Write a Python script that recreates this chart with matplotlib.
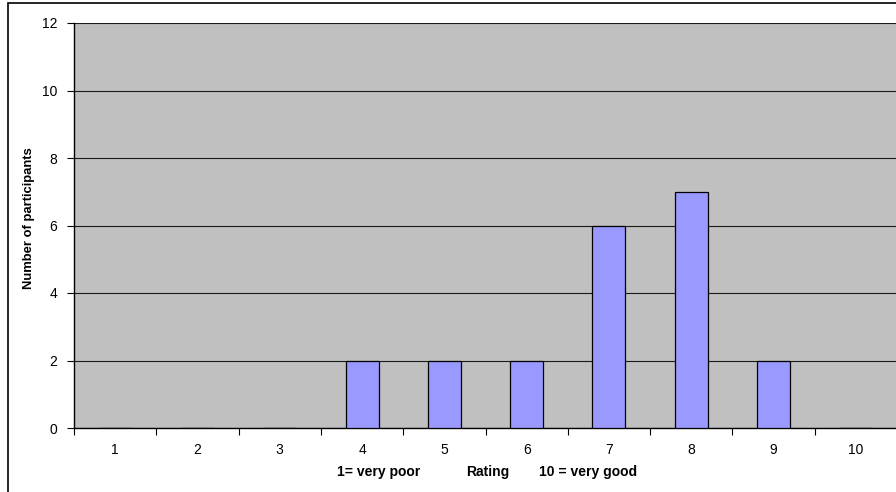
import matplotlib.pyplot as plt
from matplotlib.patches import Rectangle

plt.rcParams['font.family'] = ['Liberation Sans', 'DejaVu Sans']

ratings = [1, 2, 3, 4, 5, 6, 7, 8, 9, 10]
participants = [0, 0, 0, 2, 2, 2, 6, 7, 2, 0]
y_ticks = [0, 2, 4, 6, 8, 10, 12]

W, H = 896, 492
fig = plt.figure(figsize=(W / 100, H / 100), dpi=100)

# chart frame (clipped at right and bottom like the reference)
fig.patches.append(Rectangle((8 / W, -0.1), 1.2, 1 - 3 / H + 0.1,
                             transform=fig.transFigure, fill=False,
                             edgecolor='black', linewidth=1.2))

left, right, top, bottom = 74, 897, 23, 428
ax = fig.add_axes([left / W, 1 - bottom / H, (right - left) / W, (bottom - top) / H])
ax.set_facecolor('#C0C0C0')

ax.bar(ratings, participants, width=0.40, color='#9999FF',
       edgecolor='black', linewidth=0.9, zorder=3)

ax.set_xlim(0.5, 10.5)
ax.set_ylim(0, 12)
ax.set_yticks(y_ticks)
ax.yaxis.grid(True, color='#1a1a1a', linewidth=0.8, zorder=1)
ax.set_axisbelow(True)

ax.set_xticks(ratings)
ax.set_xticklabels([str(r) for r in ratings], fontsize=10)
ax.set_xticks([r + 0.5 for r in [0] + ratings[:-1]], minor=True)
ax.tick_params(axis='x', which='major', length=0, pad=11)
ax.tick_params(axis='x', which='minor', length=5, width=0.8, direction='out')
ax.tick_params(axis='y', length=5, width=0.8, labelsize=10, pad=7)

for s in ['top', 'right']:
    ax.spines[s].set_visible(False)
for s in ['left', 'bottom']:
    ax.spines[s].set_linewidth(1.0)

# axis titles placed in pixel positions
fig.text(29 / W, 1 - 218 / H, 'Number of participants', rotation=90,
         fontsize=9.4, fontweight='bold', ha='center', va='center')
lab_y = 1 - 472 / H
fig.text(337 / W, lab_y, '1= very poor', fontsize=10, fontweight='bold',
         ha='left', va='center')
fig.text(466 / W, lab_y, 'Rating', fontsize=10, fontweight='bold',
         ha='left', va='center')
fig.text(637 / W, lab_y, '10 = very good', fontsize=10, fontweight='bold',
         ha='right', va='center')

fig.savefig('out.png', dpi=100)
